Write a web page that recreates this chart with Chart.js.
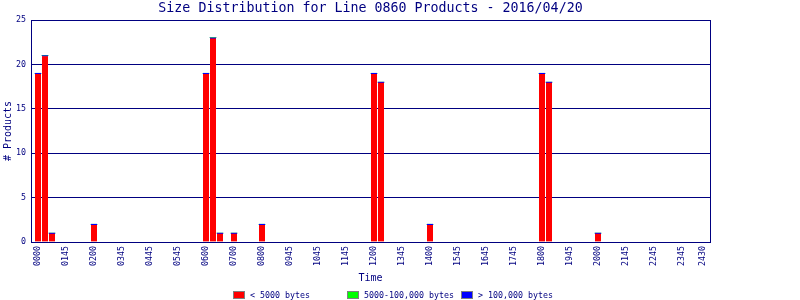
<!DOCTYPE html>
<html>
<head>
<meta charset="utf-8">
<script src="https://cdn.jsdelivr.net/npm/chart.js@4"></script>
<style>
  html, body { margin: 0; padding: 0; background: #fff; }
</style>
</head>
<body>
<canvas id="myChart" width="800" height="300"></canvas>
<script>
// chart data, one bar per 15 minute slot that had products
const chartTitle = 'Size Distribution for Line 0860 Products - 2016/04/20';
const sampleTimes = ['0000', '0015', '0030', '0200', '0600', '0615', '0630', '0700', '0800', '1200', '1215', '1400', '1800', '1815', '2000'];
const smallCounts = [19, 21, 1, 2, 19, 23, 1, 1, 2, 19, 18, 2, 19, 18, 1];
const mediumCounts = [0, 0, 0, 0, 0, 0, 0, 0, 0, 0, 0, 0, 0, 0, 0];
const largeCounts = [0, 0, 0, 0, 0, 0, 0, 0, 0, 0, 0, 0, 0, 0, 0];
const seriesNames = ['< 5000 bytes', '5000-100,000 bytes', '> 100,000 bytes'];
const tickLabels = ['0000', '0145', '0200', '0345', '0445', '0545', '0600', '0700', '0800', '0945', '1045', '1145',
  '1200', '1345', '1400', '1545', '1645', '1745', '1800', '1945', '2000', '2145', '2245', '2345', '2430'];
const tickHours = [0, 1, 2, 3, 4, 5, 6, 7, 8, 9, 10, 11, 12, 13, 14, 15, 16, 17, 18, 19, 20, 21, 22, 23, 23.75];

const navy = '#000080';
const mono = 'DejaVu Sans Mono';
const seriesColors = ['#ff0000', '#00ff00', '#0000ff'];

const toHours = (t) => Number(t.slice(0, 2)) + Number(t.slice(2)) / 60;
const points = (values) => sampleTimes.map((t, i) => ({ x: toHours(t), y: values[i] }));

// title, right frame line and the fixed-column legend
const extras = {
  id: 'extras',
  beforeDatasetsDraw(chart) {
    const { ctx, chartArea: { left, right, top, bottom } } = chart;
    ctx.save();
    ctx.strokeStyle = navy;
    ctx.lineWidth = 1;
    ctx.strokeRect(Math.round(left) + 0.5, Math.round(top) + 0.5, Math.round(right - left), Math.round(bottom - top));
    ctx.restore();
  },
  afterDraw(chart) {
    const { ctx, chartArea: { left, right } } = chart;
    ctx.save();
    ctx.fillStyle = navy;
    ctx.font = '13.3px "' + mono + '"';
    ctx.textAlign = 'center';
    ctx.textBaseline = 'middle';
    ctx.fillText(chartTitle, (left + right) / 2, 9);

    ctx.font = '8.3px "' + mono + '"';
    ctx.textAlign = 'left';
    seriesNames.forEach((name, i) => {
      const x = 233 + i * 114;
      ctx.fillStyle = seriesColors[i];
      ctx.fillRect(x, 291, 12, 8);
      ctx.strokeStyle = '#808080';
      ctx.strokeRect(x + 0.5, 291.5, 11, 7);
      ctx.fillStyle = navy;
      ctx.fillText(name, x + 17, 295.5);
    });
    ctx.restore();
  }
};

const data = {
  datasets: [
    {
      label: seriesNames[0],
      data: points(smallCounts),
      backgroundColor: seriesColors[0],
      borderColor: seriesColors[2],
      borderWidth: { top: 1, left: 0, right: 0, bottom: 0 },
      borderSkipped: 'start',
      barThickness: 6
    },
    { label: seriesNames[1], data: points(mediumCounts), backgroundColor: seriesColors[1], borderWidth: 0, barThickness: 6 },
    { label: seriesNames[2], data: points(largeCounts), backgroundColor: seriesColors[2], borderWidth: 0, barThickness: 6 }
  ]
};

const config = {
  type: 'bar',
  data,
  options: {
    responsive: false,
    animation: false,
    devicePixelRatio: 1,
    layout: { padding: { top: 20, right: 90, bottom: 16, left: 0 } },
    plugins: {
      legend: { display: false },
      title: { display: false },
      tooltip: { enabled: false }
    },
    scales: {
      x: {
        type: 'linear',
        stacked: true,
        offset: false,
        min: -0.25,
        max: 24,
        afterBuildTicks: (scale) => { scale.ticks = tickHours.map((v) => ({ value: v })); },
        afterFit: (scale) => { scale.height = 42; },
        grid: { display: false, drawTicks: false },
        border: { display: false },
        ticks: {
          autoSkip: false,
          minRotation: 90,
          maxRotation: 90,
          padding: 4,
          color: navy,
          font: { family: mono, size: 8.3 },
          callback: (value, index) => tickLabels[index]
        },
        title: { display: true, text: 'Time', color: navy, font: { family: mono, size: 10 }, padding: 0 }
      },
      y: {
        stacked: true,
        min: 0,
        max: 25,
        afterFit: (scale) => { scale.width = 31; },
        grid: { color: navy, lineWidth: 1, drawTicks: false },
        border: { display: true, color: navy },
        ticks: { stepSize: 5, padding: 5, color: navy, font: { family: mono, size: 8.3 } },
        title: { display: true, text: '# Products', color: navy, font: { family: mono, size: 10 }, padding: 2 }
      }
    }
  },
  plugins: [extras]
};

const myChart = new Chart(document.getElementById('myChart'), config);
</script>
</body>
</html>
